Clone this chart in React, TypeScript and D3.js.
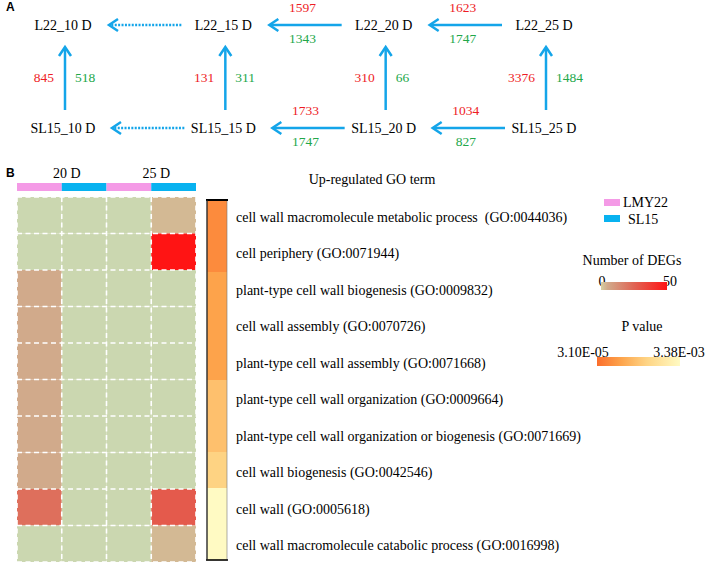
import React, { useEffect, useRef } from 'react'
import * as d3 from 'd3'

// Panel A: DEG comparisons
const days = ['10 D', '15 D', '20 D', '25 D']
const lines = ['L22', 'SL15']
const vertUp = [845, 131, 310, 3376]
const vertDown = [518, 311, 66, 1484]
// pairs (10-15, 15-20, 20-25); null = dotted arrow
const l22Up = [null, 1597, 1623]
const l22Down = [null, 1343, 1747]
const sl15Up = [null, 1733, 1034]
const sl15Down = [null, 1747, 827]

// Panel B: GO heatmap
const terms = [
  'cell wall macromolecule metabolic process  (GO:0044036)',
  'cell periphery (GO:0071944)',
  'plant-type cell wall biogenesis (GO:0009832)',
  'cell wall assembly (GO:0070726)',
  'plant-type cell wall assembly (GO:0071668)',
  'plant-type cell wall organization (GO:0009664)',
  'plant-type cell wall organization or biogenesis (GO:0071669)',
  'cell wall biogenesis (GO:0042546)',
  'cell wall (GO:0005618)',
  'cell wall macromolecule catabolic process (GO:0016998)',
]
const pValues = [5.6e-4, 5.6e-4, 1.0e-3, 1.0e-3, 1.0e-3, 1.6e-3, 1.6e-3, 2.0e-3, 3.38e-3, 3.38e-3]
const samples = ['LMY22 20 D', 'SL15 20 D', 'LMY22 25 D', 'SL15 25 D']
const sampleLine = ['LMY22', 'SL15', 'LMY22', 'SL15']
const groups = ['20 D', '25 D']
const countsLMY22_20 = [0, 0, 5, 5, 5, 5, 5, 5, 22, 0]
const countsSL15_20 = [0, 0, 0, 0, 0, 0, 0, 0, 0, 0]
const countsLMY22_25 = [0, 0, 0, 0, 0, 0, 0, 0, 0, 0]
const countsSL15_25 = [3, 50, 0, 0, 0, 0, 0, 0, 28, 3]
const countCols = [countsLMY22_20, countsSL15_20, countsLMY22_25, countsSL15_25]

const SERIF = 'Liberation Serif'
const SANS = 'Liberation Sans'
const BLUE = '#14a5e9'
const RED = '#ee1c25'
const GREEN = '#22a74a'

const App: React.FC = () => {
  const svgRef = useRef<SVGSVGElement>(null)

  useEffect(() => {
    const svg = d3.select(svgRef.current)
    svg.selectAll('*').remove()
    svg.attr('width', 708).attr('height', 565)

    const defs = svg.append('defs')
    const root = svg.append('g').attr('font-family', SERIF)

    // ---------- Panel A ----------
    const a = root.append('g')
    a.append('text').attr('x', 6).attr('y', 11).text('A')
      .attr('font-family', SANS).attr('font-weight', 'bold').attr('font-size', 12)

    const x = d3.scalePoint<string>().domain(days).range([65, 546])
    const y = d3.scalePoint<string>().domain(lines).range([25, 128])

    const chevron = (tx: number, ty: number, dir: 'left' | 'up') => {
      const p = d3.path()
      if (dir === 'left') {
        p.moveTo(tx + 9, ty - 6); p.lineTo(tx, ty); p.lineTo(tx + 9, ty + 6)
      } else {
        p.moveTo(tx - 6, ty + 9); p.lineTo(tx, ty); p.lineTo(tx + 6, ty + 9)
      }
      a.append('path').attr('d', p.toString()).attr('fill', 'none')
        .attr('stroke', BLUE).attr('stroke-width', 2.5)
    }

    // node labels
    lines.forEach(ln => {
      days.forEach(d => {
        a.append('text')
          .attr('x', x(d)! - 2)
          .attr('y', y(ln)! + 5)
          .attr('text-anchor', 'middle')
          .attr('font-size', 14)
          .text(`${ln}_${d}`)
      })
    })

    // vertical arrows SL15 -> L22
    days.forEach((d, i) => {
      const cx = x(d)!
      const y0 = y('SL15')! - 18
      const y1 = y('L22')! + 22
      a.append('line').attr('x1', cx).attr('x2', cx).attr('y1', y0).attr('y2', y1 + 1)
        .attr('stroke', BLUE).attr('stroke-width', 2.5)
      chevron(cx, y1, 'up')
      const my = (y('L22')! + y('SL15')!) / 2 + 5
      a.append('text').attr('x', cx - 11).attr('y', my).attr('text-anchor', 'end')
        .attr('font-size', 13.5).attr('fill', RED).text(vertUp[i])
      a.append('text').attr('x', cx + 10).attr('y', my).attr('text-anchor', 'start')
        .attr('font-size', 13.5).attr('fill', GREEN).text(vertDown[i])
    })

    // horizontal arrows later -> earlier
    const horiz = [
      { line: 'L22', up: l22Up, down: l22Down, tail: 44, head: 44 },
      { line: 'SL15', up: sl15Up, down: sl15Down, tail: 41, head: 47 },
    ]
    horiz.forEach(h => {
      const cy = y(h.line)!
      for (let i = 0; i < days.length - 1; i++) {
        const xs = x(days[i + 1])! - h.tail
        const xe = x(days[i])! + h.head
        const dotted = h.up[i] === null
        a.append('line').attr('x1', xs).attr('x2', xe + 1).attr('y1', cy).attr('y2', cy)
          .attr('stroke', BLUE).attr('stroke-width', 2.5)
          .attr('stroke-dasharray', dotted ? '2,1.4' : null)
        chevron(xe, cy, 'left')
        if (!dotted) {
          const mx = (xs + xe) / 2 - 3
          a.append('text').attr('x', mx).attr('y', cy - 13).attr('text-anchor', 'middle')
            .attr('font-size', 13.5).attr('fill', RED).text(h.up[i] as number)
          a.append('text').attr('x', mx).attr('y', cy + 18).attr('text-anchor', 'middle')
            .attr('font-size', 13.5).attr('fill', GREEN).text(h.down[i] as number)
        }
      }
    })

    // ---------- Panel B ----------
    const b = root.append('g')
    b.append('text').attr('x', 6).attr('y', 177).text('B')
      .attr('font-family', SANS).attr('font-weight', 'bold').attr('font-size', 12)

    const xb = d3.scaleBand<string>().domain(samples).range([17, 196])
    const yb = d3.scaleBand<string>().domain(terms).range([197, 562])
    const lineColor = d3.scaleOrdinal<string, string>().domain(['LMY22', 'SL15']).range(['#f49ae6', '#08b2f0'])

    const countColor = d3.scaleLinear<string>()
      .domain([0, 5, 25, 50])
      .range(['#d6d0a2', '#d1aa8b', '#e06454', '#ff1414'])
    const zeroColor = '#cbd7b0'

    // group labels
    groups.forEach((g, gi) => {
      const x0 = xb(samples[gi * 2])!
      const x1 = xb(samples[gi * 2 + 1])! + xb.bandwidth()
      b.append('text').attr('x', (x0 + x1) / 2 + 5).attr('y', 178)
        .attr('text-anchor', 'middle').attr('font-size', 14).text(g)
    })

    // header colour bar
    samples.forEach((s, i) => {
      b.append('rect').attr('x', xb(s)!).attr('y', 183).attr('width', xb.bandwidth()).attr('height', 8)
        .attr('fill', lineColor(sampleLine[i]))
    })

    // cells
    samples.forEach((s, ci) => {
      terms.forEach((t, ri) => {
        const v = countCols[ci][ri]
        b.append('rect')
          .attr('x', xb(s)!).attr('y', yb(t)!)
          .attr('width', xb.bandwidth()).attr('height', yb.bandwidth())
          .attr('fill', v === 0 ? zeroColor : countColor(v))
      })
    })
    // dashed white grid
    const gridPath = d3.path()
    samples.forEach(s => {
      gridPath.moveTo(xb(s)!, 197); gridPath.lineTo(xb(s)!, 562)
    })
    gridPath.moveTo(196, 197); gridPath.lineTo(196, 562)
    terms.forEach(t => {
      gridPath.moveTo(17, yb(t)!); gridPath.lineTo(196, yb(t)!)
    })
    gridPath.moveTo(17, 562); gridPath.lineTo(196, 562)
    b.append('path').attr('d', gridPath.toString()).attr('fill', 'none')
      .attr('stroke', '#ffffff').attr('stroke-width', 1.6).attr('stroke-dasharray', '5,3.5')

    // P value column
    const pMin = 3.1e-5
    const pMax = 3.38e-3
    const pColor = d3.scaleLinear<string>()
      .domain([pMin, 1.0e-3, 2.0e-3, pMax])
      .range(['#fb6e2c', '#fda34b', '#fed383', '#fffac3'])
    const yp = d3.scaleBand<string>().domain(terms).range([200, 560])
    terms.forEach((t, i) => {
      b.append('rect').attr('x', 207).attr('y', yp(t)!).attr('width', 20).attr('height', yp.bandwidth() + 0.5)
        .attr('fill', pColor(pValues[i]))
    })
    b.append('rect').attr('x', 207).attr('y', 200).attr('width', 20).attr('height', 360)
      .attr('fill', 'none').attr('stroke', '#777').attr('stroke-width', 0.6)
    b.append('line').attr('x1', 206).attr('x2', 228).attr('y1', 200).attr('y2', 200)
      .attr('stroke', '#000').attr('stroke-width', 2)
    b.append('line').attr('x1', 206).attr('x2', 228).attr('y1', 560).attr('y2', 560)
      .attr('stroke', '#000').attr('stroke-width', 1.5)
    b.append('line').attr('x1', 207).attr('x2', 207).attr('y1', 200).attr('y2', 560)
      .attr('stroke', '#222').attr('stroke-width', 1.2)

    b.append('text').attr('x', 372).attr('y', 184).attr('text-anchor', 'middle')
      .attr('font-size', 14).text('Up-regulated GO term')

    terms.forEach(t => {
      b.append('text').attr('x', 236).attr('y', yb(t)! + yb.bandwidth() / 2 + 6.5)
        .attr('font-size', 14).style('white-space', 'pre').text(t)
    })

    // legends
    const lg = root.append('g')
    ;['LMY22', 'SL15'].forEach((ln, i) => {
      lg.append('rect').attr('x', 604).attr('y', 199 + i * 16).attr('width', 16).attr('height', 7)
        .attr('fill', lineColor(ln))
      lg.append('text').attr('x', i === 0 ? 623 : 628).attr('y', 207 + i * 17)
        .attr('font-size', 14).text(ln)
    })

    lg.append('text').attr('x', 632).attr('y', 265).attr('text-anchor', 'middle')
      .attr('font-size', 14).text('Number of DEGs')
    const degGrad = defs.append('linearGradient').attr('id', 'degGrad')
    d3.range(0, 51, 5).forEach(v => {
      degGrad.append('stop').attr('offset', `${v * 2}%`).attr('stop-color', countColor(v))
    })
    lg.append('text').attr('x', 602).attr('y', 286).attr('text-anchor', 'middle').attr('font-size', 14).text('0')
    lg.append('text').attr('x', 670).attr('y', 286).attr('text-anchor', 'middle').attr('font-size', 14).text('50')
    lg.append('rect').attr('x', 601).attr('y', 282).attr('width', 66).attr('height', 8).attr('fill', 'url(#degGrad)')

    lg.append('text').attr('x', 642).attr('y', 331).attr('text-anchor', 'middle')
      .attr('font-size', 14).text('P value')
    const pGrad = defs.append('linearGradient').attr('id', 'pGrad')
    d3.range(0, 11).forEach(k => {
      const v = pMin + (pMax - pMin) * k / 10
      pGrad.append('stop').attr('offset', `${k * 10}%`).attr('stop-color', pColor(v))
    })
    lg.append('text').attr('x', 583).attr('y', 357).attr('text-anchor', 'middle')
      .attr('font-size', 14).text('3.10E-05')
    lg.append('text').attr('x', 679).attr('y', 357).attr('text-anchor', 'middle')
      .attr('font-size', 14).text('3.38E-03')
    lg.append('rect').attr('x', 597).attr('y', 357).attr('width', 83).attr('height', 9).attr('fill', 'url(#pGrad)')
  }, [])

  return (
    <div style={{ position: 'absolute', left: 0, top: 0, width: 708, height: 565, background: '#fff' }}>
      <svg ref={svgRef}></svg>
    </div>
  )
}

export default App
